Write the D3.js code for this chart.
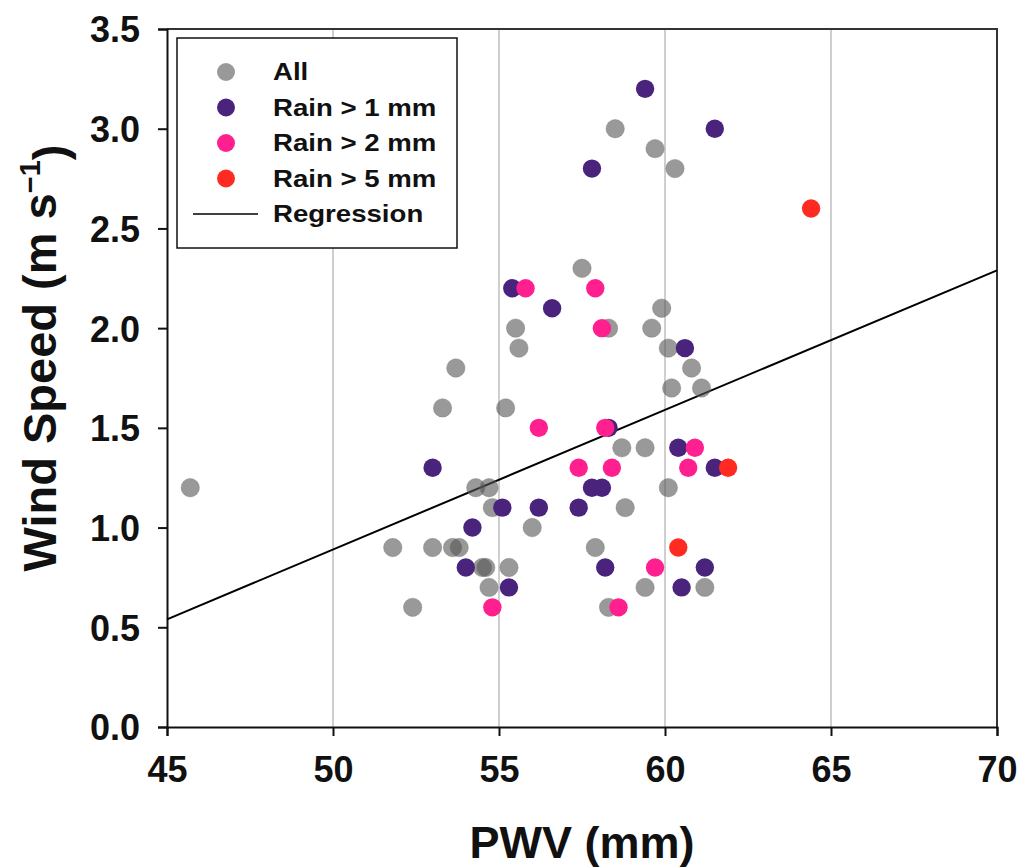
<!DOCTYPE html>
<html>
<head>
<meta charset="utf-8">
<script src="https://cdn.jsdelivr.net/npm/d3@7"></script>
<style>
  body { margin: 0; background: #fff; }
  svg { display: block; font-family: Arial, "Liberation Sans", sans-serif; }
</style>
</head>
<body>
<svg width="1031" height="868"></svg>
<script>
// points: [PWV mm, wind speed m/s]
const allPoints = [
    [45.7, 1.2], [57.5, 2.3], [55.5, 2.0], [55.6, 1.9], [53.7, 1.8], [53.3, 1.6], [55.2, 1.6],
    [54.3, 1.2], [54.7, 1.2], [54.8, 1.1], [56.0, 1.0], [51.8, 0.9], [53.0, 0.9], [53.6, 0.9],
    [53.8, 0.9], [54.5, 0.8], [54.6, 0.8], [55.3, 0.8], [54.7, 0.7], [52.4, 0.6], [59.9, 2.1],
    [58.3, 2.0], [59.6, 2.0], [60.1, 1.9], [60.8, 1.8], [60.2, 1.7], [61.1, 1.7], [58.7, 1.4],
    [59.4, 1.4], [60.1, 1.2], [58.8, 1.1], [57.9, 0.9], [59.4, 0.7], [61.2, 0.7], [58.3, 0.6],
    [58.5, 3.0], [59.7, 2.9], [60.3, 2.8]
];
const rain1Points = [
    [55.4, 2.2], [56.6, 2.1], [53.0, 1.3], [55.1, 1.1], [56.2, 1.1], [57.4, 1.1], [54.2, 1.0],
    [54.0, 0.8], [55.3, 0.7], [60.6, 1.9], [58.3, 1.5], [60.4, 1.4], [61.5, 1.3], [57.8, 1.2],
    [58.1, 1.2], [58.2, 0.8], [61.2, 0.8], [60.5, 0.7], [59.4, 3.2], [61.5, 3.0], [57.8, 2.8]
];
const rain2Points = [
    [55.8, 2.2], [56.2, 1.5], [54.8, 0.6], [57.9, 2.2], [58.1, 2.0], [58.2, 1.5], [60.9, 1.4],
    [57.4, 1.3], [58.4, 1.3], [60.7, 1.3], [59.7, 0.8], [58.6, 0.6]
];
const rain5Points = [[64.4, 2.6], [61.9, 1.3], [60.4, 0.9]];
const regression = [[45, 0.54], [70, 2.29]];

const xTicks = [45, 50, 55, 60, 65, 70];
const yTicks = [0, 0.5, 1, 1.5, 2, 2.5, 3, 3.5];
const gridX = [50, 55, 60, 65];

const series = [
    { name: "All", pts: allPoints, color: "#555555", opacity: 0.6, edge: "#777" },
    { name: "Rain > 1 mm", pts: rain1Points, color: "#4a247c", opacity: 1, edge: "none" },
    { name: "Rain > 2 mm", pts: rain2Points, color: "#ff1f8e", opacity: 1, edge: "none" },
    { name: "Rain > 5 mm", pts: rain5Points, color: "#ff2b22", opacity: 1, edge: "none" }
];

const svg = d3.select("svg");
const area = { left: 167, right: 997, top: 29, bottom: 727 };
const r = 9.2;

const scX = d3.scaleLinear().domain([45, 70]).range([area.left, area.right]);
const scY = d3.scaleLinear().domain([0, 3.5]).range([area.bottom, area.top]);

// vertical grid
svg.append("g")
    .selectAll("line")
    .data(gridX)
    .enter()
    .append("line")
    .attr("x1", d => scX(d)).attr("x2", d => scX(d))
    .attr("y1", area.top).attr("y2", area.bottom)
    .attr("stroke", "#cfcfcf")
    .attr("stroke-width", 2);

// frame top / right
svg.append("path")
    .attr("d", `M${area.left},${area.top}H${area.right}V${area.bottom}`)
    .attr("fill", "none")
    .attr("stroke", "#333")
    .attr("stroke-width", 2);

const axisX = d3.axisBottom(scX).tickValues(xTicks).tickSize(9).tickPadding(20).tickFormat(d3.format("d"));
const axisY = d3.axisLeft(scY).tickValues(yTicks).tickSize(9).tickPadding(18).tickFormat(d3.format(".1f"));

const gx = svg.append("g")
    .attr("transform", `translate(0, ${area.bottom})`)
    .call(axisX);
const gy = svg.append("g")
    .attr("transform", `translate(${area.left}, 0)`)
    .call(axisY);

[gx, gy].forEach(g => {
    g.select(".domain").attr("stroke", "#111").attr("stroke-width", 2);
    g.selectAll(".tick line").attr("stroke", "#111").attr("stroke-width", 2);
    g.selectAll(".tick text")
        .attr("fill", "#111")
        .style("font-size", "36px")
        .style("font-weight", "bold")
        .style("font-family", "Arial, 'Liberation Sans', sans-serif");
});
gy.selectAll(".tick text").attr("dy", "0.36em");

// regression line
const line = d3.line().x(d => scX(d[0])).y(d => scY(d[1]));
svg.append("path")
    .datum(regression)
    .attr("d", line)
    .attr("fill", "none")
    .attr("stroke", "#000")
    .attr("stroke-width", 2);

// points
series.forEach(s => {
    svg.append("g")
        .selectAll("circle")
        .data(s.pts)
        .enter()
        .append("circle")
        .attr("cx", d => scX(d[0]))
        .attr("cy", d => scY(d[1]))
        .attr("r", r)
        .attr("fill", s.color)
        .attr("fill-opacity", s.opacity)
        .attr("stroke", s.edge)
        .attr("stroke-opacity", 0.5)
        .attr("stroke-width", 0.8);
});

// legend
const legend = svg.append("g");
legend.append("rect")
    .attr("x", 177).attr("y", 38)
    .attr("width", 280).attr("height", 210)
    .attr("fill", "#fff")
    .attr("stroke", "#111")
    .attr("stroke-width", 1.5);

const rowY = d3.scaleLinear().domain([0, 4]).range([72, 214]);
series.forEach((s, i) => {
    legend.append("circle")
        .attr("cx", 226).attr("cy", rowY(i))
        .attr("r", 9)
        .attr("fill", s.color)
        .attr("fill-opacity", s.opacity);
});
legend.append("line")
    .attr("x1", 193).attr("x2", 258)
    .attr("y1", rowY(4)).attr("y2", rowY(4))
    .attr("stroke", "#000").attr("stroke-width", 1.5);

const legendLabels = series.map(s => s.name).concat(["Regression"]);
legend.selectAll("text")
    .data(legendLabels)
    .enter()
    .append("text")
    .attr("transform", (d, i) => `translate(273, ${rowY(i) + 8}) scale(1.2, 1)`)
    .style("font-size", "23px")
    .style("font-weight", "bold")
    .attr("fill", "#111")
    .text(d => d);

// axis titles
svg.append("text")
    .attr("x", (area.left + area.right) / 2)
    .attr("y", 858)
    .attr("text-anchor", "middle")
    .style("font-size", "45px")
    .style("font-weight", "bold")
    .attr("fill", "#111")
    .text("PWV (mm)");

const yTitle = svg.append("text")
    .attr("transform", `translate(56, 358) rotate(-90)`)
    .attr("text-anchor", "middle")
    .style("font-size", "47px")
    .style("font-weight", "bold")
    .attr("fill", "#111");
yTitle.append("tspan").text("Wind Speed (m s");
yTitle.append("tspan")
    .attr("dy", "-0.55em")
    .style("font-size", "29px")
    .text("\u22121");
yTitle.append("tspan")
    .attr("dy", "0.55em")
    .text(")");
</script>
</body>
</html>
